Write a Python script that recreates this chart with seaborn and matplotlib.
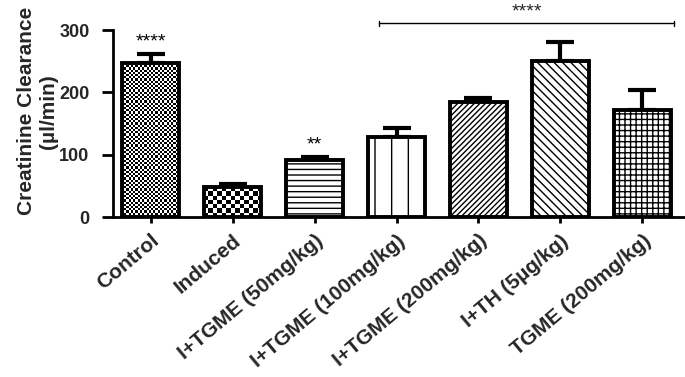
import matplotlib
matplotlib.use("Agg")
import matplotlib.pyplot as plt
import seaborn as sns
import pandas as pd
import numpy as np

groups = ["Control", "Induced", "I+TGME (50mg/kg)", "I+TGME (100mg/kg)",
          "I+TGME (200mg/kg)", "I+TH (5µg/kg)", "TGME (200mg/kg)"]
means = [247, 48, 91, 128, 185, 250, 172]
sems = [15, 5, 6, 15, 6, 31, 32]
stars = ["****", "", "**", "", "", "", ""]
hatches = [None, None, "---", "|", "//////", "\\\\\\\\", "+++"]
checker_px = [2.2, 4.5, 0, 0, 0, 0, 0]
bracket_label = "****"

sns.set_style("ticks")
plt.rcParams["font.family"] = ["Liberation Sans", "DejaVu Sans"]
plt.rcParams["hatch.linewidth"] = 1.0

df = pd.DataFrame({"group": groups, "mean": means})

fig = plt.figure(figsize=(6.85, 3.77), dpi=100)
ax = fig.add_axes([0.165, 0.424, 0.835, 0.496])

sns.barplot(data=df, x="group", y="mean", color="white", edgecolor="black",
            linewidth=2.8, width=0.7, ax=ax, errorbar=None, saturation=1)

ax.set_ylim(0, 300)
ax.set_xlim(-0.46, 6.52)

for p, h, cp in zip(ax.patches, hatches, checker_px):
    p.set_facecolor("white")
    p.set_edgecolor("black")
    p.set_zorder(3)
    if h:
        p.set_hatch(h)
    if cp:
        x0, y0, w, hgt = p.get_x(), p.get_y(), p.get_width(), p.get_height()
        (dx0, dy0), (dx1, dy1) = ax.transData.transform([(x0, y0), (x0 + w, y0 + hgt)])
        nc = max(1, int(round((dx1 - dx0) / cp)))
        nr = max(1, int(round((dy1 - dy0) / cp)))
        arr = (np.indices((nr, nc)).sum(axis=0) % 2).astype(float)
        p.set_facecolor("none")
        im = ax.imshow(arr, cmap="gray", extent=(x0, x0 + w, y0, y0 + hgt),
                       aspect="auto", interpolation="nearest", zorder=2, origin="lower")
        im.set_clip_path(p)

xs = list(range(len(groups)))
ax.errorbar(xs, means, yerr=[[0] * len(sems), sems], fmt="none", ecolor="black",
            elinewidth=3, capsize=10, capthick=3, zorder=1)

for x, m, s, st in zip(xs, means, sems, stars):
    if st:
        ax.text(x, m + s + 5, st, ha="center", va="bottom", fontsize=14, color="black")

by = 311
ax.plot([2.78, 6.39], [by, by], color="black", lw=1, clip_on=False)
ax.plot([2.78, 2.78], [by - 4, by + 4], color="black", lw=1, clip_on=False)
ax.plot([6.39, 6.39], [by - 4, by + 4], color="black", lw=1, clip_on=False)
ax.text((2.78 + 6.39) / 2, by + 4, bracket_label, ha="center", va="bottom",
        fontsize=14, clip_on=False)

ax.set_ylim(0, 300)
ax.set_xlim(-0.46, 6.52)
ax.set_yticks([0, 100, 200, 300])
ax.set_xlabel("")
ax.set_ylabel("Creatinine Clearance\n(µl/min)", fontsize=15, fontweight="bold",
              linespacing=1.15)
ax.yaxis.set_label_coords(-0.097, 0.567)
ax.set_xticks(xs)
ax.set_xticklabels(groups, rotation=40, ha="right", rotation_mode="anchor",
                   fontsize=15, fontweight="bold")
for t in ax.get_yticklabels():
    t.set_fontweight("bold")
    t.set_fontsize(13)
ax.tick_params(axis="y", width=2, length=8, color="black", pad=9)
ax.tick_params(axis="x", width=2, length=4, color="black", pad=6)
for sp in ["left", "bottom"]:
    ax.spines[sp].set_linewidth(2)
    ax.spines[sp].set_color("black")
sns.despine(ax=ax)

fig.savefig("out.png", dpi=100)
